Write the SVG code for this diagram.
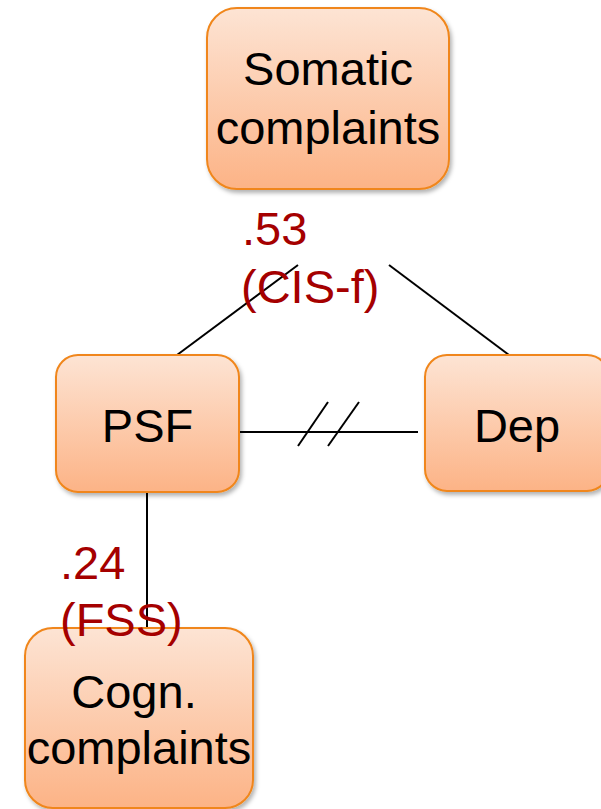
<svg xmlns="http://www.w3.org/2000/svg" width="601" height="809" viewBox="0 0 601 809">
<defs>
<linearGradient id="g" x1="0" y1="0" x2="0" y2="1">
<stop offset="0" stop-color="#fde4d4"/>
<stop offset="1" stop-color="#fcb386"/>
</linearGradient>
<filter id="sh" x="-10%" y="-10%" width="130%" height="130%">
<feDropShadow dx="2" dy="3" stdDeviation="2" flood-color="#000" flood-opacity="0.3"/>
</filter>
</defs>
<style>
.box{fill:url(#g);stroke:#f0861a;stroke-width:2;filter:url(#sh)}
.t{font-family:"Liberation Sans",Arial,sans-serif;font-size:47px;fill:#000;text-anchor:middle}
.r{font-family:"Liberation Sans",Arial,sans-serif;font-size:47px;fill:#a50000}
.c{stroke:#000;stroke-width:2;fill:none}
</style>
<g id="connectors">
<line class="c" x1="177" y1="355" x2="298" y2="265"/>
<line class="c" x1="389" y1="265" x2="509" y2="355"/>
<line class="c" x1="239" y1="432" x2="418" y2="432"/>
<line class="c" x1="298" y1="446" x2="328" y2="402"/>
<line class="c" x1="328" y1="446" x2="359" y2="402"/>
<line class="c" x1="147" y1="492" x2="147" y2="628"/>
</g>
<g id="somatic">
<rect class="box" x="207" y="8" width="242" height="181" rx="30"/>
<text class="t" x="328" y="85">Somatic</text>
<text class="t" x="328" y="144">complaints</text>
</g>
<g id="psf">
<rect class="box" x="56" y="355" width="183" height="137" rx="22"/>
<text class="t" x="147.5" y="442">PSF</text>
</g>
<g id="dep">
<rect class="box" x="425" y="355" width="184" height="136" rx="22"/>
<text class="t" x="517" y="442">Dep</text>
</g>
<g id="cogn">
<rect class="box" x="25" y="628" width="228" height="180" rx="28"/>
<text class="t" x="134" y="708">Cogn.</text>
<text class="t" x="139" y="764">complaints</text>
</g>
<g id="labels">
<text class="r" x="242" y="245">.53</text>
<text class="r" x="241" y="303">(CIS-f)</text>
<text class="r" x="60" y="579">.24</text>
<text class="r" x="60" y="636">(FSS)</text>
</g>
</svg>
